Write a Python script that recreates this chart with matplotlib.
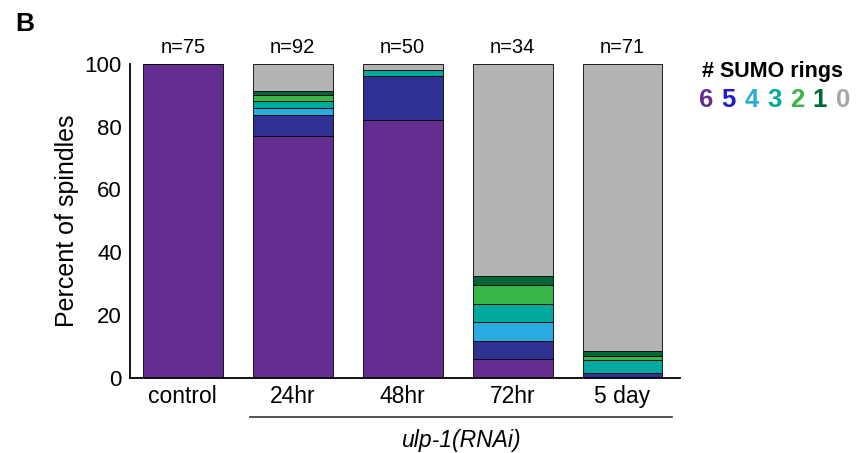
import matplotlib.pyplot as plt
import numpy as np

plt.rcParams['font.family'] = ['Liberation Sans', 'DejaVu Sans']

groups = ["control", "24hr", "48hr", "72hr", "5 day"]
n_counts = [75, 92, 50, 34, 71]
ring_labels = ["6", "5", "4", "3", "2", "1", "0"]
ring_colors = ["#662d91", "#2e3192", "#29abe2", "#00a99d", "#39b54a", "#006837", "#b3b3b3"]
legend_colors = ["#662d91", "#1c1cc8", "#29abe2", "#00a99d", "#39b54a", "#006837", "#a6a6a6"]

# number of spindles with 6,5,4,3,2,1,0 rings for each condition
counts = {
    "6": [75, 71, 41, 2, 0],
    "5": [0, 6, 7, 2, 1],
    "4": [0, 2, 0, 2, 0],
    "3": [0, 2, 1, 2, 3],
    "2": [0, 2, 0, 2, 1],
    "1": [0, 1, 0, 1, 1],
    "0": [0, 8, 1, 23, 65],
}

fig = plt.figure(figsize=(8.56, 4.53), dpi=100)
ax = fig.add_axes([0.152, 0.166, 0.642, 0.693])

x = np.arange(len(groups))
bottom = np.zeros(len(groups))
for lab, col in zip(ring_labels, ring_colors):
    pct = np.array(counts[lab]) / np.array(n_counts) * 100
    ax.bar(x, pct, 0.727, bottom=bottom, color=col, edgecolor="black", linewidth=0.6)
    bottom += pct

for xi, n in zip(x, n_counts):
    ax.annotate(f"n={n}", (xi, 100), xytext=(0, 16), textcoords="offset pixels",
                ha="center", va="center", fontsize=14.5, annotation_clip=False)

ax.set_xlim(-0.48, 4.52)
ax.set_ylim(0, 100)
ax.set_yticks([0, 20, 40, 60, 80, 100])
ax.set_xticks(x)
ax.set_xticklabels(groups, fontsize=16.5)
ax.tick_params(axis="y", labelsize=16, length=0, pad=6)
ax.tick_params(axis="x", length=0, pad=5)
ax.set_ylabel("Percent of spindles", fontsize=18, labelpad=4)
ax.spines["top"].set_visible(False)
ax.spines["right"].set_visible(False)
ax.spines["left"].set_linewidth(1.3)
ax.spines["bottom"].set_linewidth(1.3)

# bracket under RNAi conditions
fig.add_artist(plt.Line2D([250 / 856, 672 / 856], [1 - 417 / 453, 1 - 417 / 453], color="#333333", lw=1.2))
fig.text(461 / 856, 1 - 440 / 453, "ulp-1(RNAi)", ha="center", va="center", fontsize=16.5, style="italic")

fig.text(15 / 856, 1 - 24 / 453, "B", ha="left", va="center", fontsize=19, fontweight="bold")

# legend
fig.text(773 / 856, 1 - 72 / 453, "# SUMO rings", ha="center", va="center", fontsize=15.5, fontweight="bold")
lx = 706
for lab, col in zip(ring_labels, legend_colors):
    fig.text(lx / 856, 1 - 100 / 453, lab, ha="center", va="center", fontsize=18.5, fontweight="bold", color=col)
    lx += 22.8

fig.savefig("out.png", dpi=100)
